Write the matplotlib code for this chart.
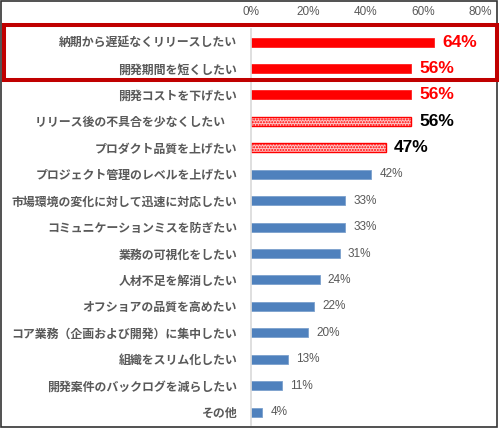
import matplotlib
matplotlib.use('Agg')
import matplotlib.pyplot as plt
from matplotlib.patches import Rectangle
from matplotlib.ticker import FuncFormatter

# データ
categories = ['納期から遅延なくリリースしたい', '開発期間を短くしたい', '開発コストを下げたい',
              'リリース後の不具合を少なくしたい　', 'プロダクト品質を上げたい',
              'プロジェクト管理のレベルを上げたい', '市場環境の変化に対して迅速に対応したい',
              'コミュニケーションミスを防ぎたい', '業務の可視化をしたい', '人材不足を解消したい',
              'オフショアの品質を高めたい', 'コア業務（企画および開発）に集中したい',
              '組織をスリム化したい', '開発案件のバックログを減らしたい', 'その他']
values = [64, 56, 56, 56, 47, 42, 33, 33, 31, 24, 22, 20, 13, 11, 4]
x_ticks = [0, 20, 40, 60, 80]

# 見た目の区分 (solid=赤, dot=赤ドット, blue=通常)
styles = ['solid'] * 3 + ['dot'] * 2 + ['blue'] * 10

jp_font = ['Noto Sans CJK JP', 'DejaVu Sans']
num_font = ['Liberation Sans', 'DejaVu Sans']
plt.rcParams['hatch.linewidth'] = 1.0

W, H = 500, 428
fig = plt.figure(figsize=(W / 100, H / 100), dpi=100)
ax = fig.add_axes([251 / W, 1 - 425.4 / H, 229 / W, (425.4 - 28.8) / H])

ypos = list(range(len(values)))
for y, v, s in zip(ypos, values, styles):
    if s == 'solid':
        ax.barh(y, v, height=0.34, color='#FF0000', edgecolor='#FF2020', linewidth=0.6)
        ax.text(v + 3.0, y, f'{v}%', va='center', ha='left', color='#FF0000',
                fontsize=12.5, fontweight='bold', family=num_font)
    elif s == 'dot':
        ax.barh(y, v, height=0.34, facecolor='#FFC8C8', edgecolor='#FF0000',
                hatch='......', linewidth=1.0)
        ax.text(v + 3.0, y, f'{v}%', va='center', ha='left', color='#000000',
                fontsize=12.5, fontweight='bold', family=num_font)
    else:
        ax.barh(y, v, height=0.34, color='#4F81BD', edgecolor='#7BA0CD', linewidth=0.6)
        ax.text(v + 2.8, y, f'{v}%', va='center', ha='left', color='#595959',
                fontsize=8.5, family=num_font)

ax.set_xlim(0, 80)
ax.set_ylim(len(values) - 0.5, -0.5)
ax.set_xticks(x_ticks)
ax.xaxis.set_major_formatter(FuncFormatter(lambda x, p: f'{x:.0f}%'))
ax.xaxis.tick_top()
ax.tick_params(axis='x', length=0, pad=8, labelcolor='#595959', labelsize=8.5)
for lab in ax.get_xticklabels():
    lab.set_family(num_font)
ax.set_yticks(ypos)
ax.set_yticklabels(categories, family=jp_font, fontsize=8.6, fontweight='bold', color='#595959')
ax.tick_params(axis='y', length=0, pad=10)

for k in ['top', 'right', 'bottom']:
    ax.spines[k].set_visible(False)
ax.spines['left'].set_color('#D9D9D9')
ax.spines['left'].set_linewidth(1.2)

# 外枠
fig.patches.append(Rectangle((1 / W, 1 - 426.5 / H), 496 / W, 426 / H, transform=fig.transFigure,
                             fill=False, edgecolor='#333333', linewidth=1.2))
# 強調枠
fig.patches.append(Rectangle((4 / W, 1 - 80 / H), 493 / W, 55 / H, transform=fig.transFigure,
                             fill=False, edgecolor='#C00000', linewidth=2.9))

fig.savefig('out.png', dpi=100)
